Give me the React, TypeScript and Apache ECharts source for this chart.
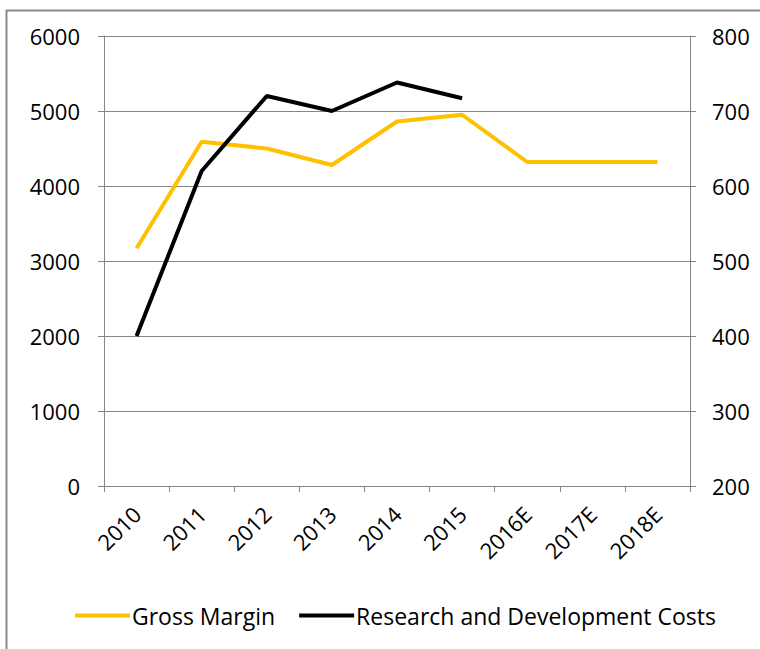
import React, { useEffect, useRef } from "react";
import * as echarts from "echarts";

const categories = ["2010", "2011", "2012", "2013", "2014", "2015", "2016E", "2017E", "2018E"];
const grossMargin = [3170, 4590, 4500, 4280, 4860, 4950, 4320, 4320, 4320];
const rdCosts: (number | null)[] = [400, 620, 720, 700, 738, 717, null, null, null];

const FONT = "'Open Sans', sans-serif";
const AXIS_COLOR = "#868686";

export default function App() {
  const ref = useRef<HTMLDivElement>(null);
  useEffect(() => {
    if (!ref.current) return;
    const chart = echarts.init(ref.current, undefined, { renderer: "svg" });
    chart.setOption({
      animation: false,
      backgroundColor: "#ffffff",
      textStyle: { fontFamily: FONT },
      graphic: [
        { type: "line", shape: { x1: 6.5, y1: 10, x2: 6.5, y2: 649 }, style: { stroke: "#8a8a8a", lineWidth: 2 } },
        { type: "line", shape: { x1: 6, y1: 10.5, x2: 760, y2: 10.5 }, style: { stroke: "#8a8a8a", lineWidth: 2 } },
      ],
      grid: { left: 104, right: 70, top: 36, bottom: 163 },
      legend: {
        top: 599,
        left: 70,
        itemWidth: 55,
        itemHeight: 4,
        itemGap: 24,
        icon: "rect",
        textStyle: { fontFamily: FONT, fontSize: 23, color: "#000", padding: [0, 0, 0, -3] },
        data: ["Gross Margin", "Research and Development Costs"],
      },
      xAxis: {
        type: "category",
        data: categories,
        boundaryGap: true,
        axisLine: { lineStyle: { color: AXIS_COLOR, width: 1 } },
        axisTick: { show: true, interval: 0, length: 6, lineStyle: { color: AXIS_COLOR } },
        axisLabel: { rotate: 45, interval: 0, margin: 24, fontSize: 22, color: "#000", fontFamily: FONT },
      },
      yAxis: [
        {
          type: "value",
          min: 0,
          max: 6000,
          interval: 1000,
          position: "left",
          axisLine: { show: true, lineStyle: { color: AXIS_COLOR } },
          axisTick: { show: true, length: 6, lineStyle: { color: AXIS_COLOR } },
          splitLine: { show: true, lineStyle: { color: AXIS_COLOR, width: 1 } },
          axisLabel: { fontSize: 22, color: "#000", margin: 24, fontFamily: FONT, formatter: (v: number) => String(v) },
        },
        {
          type: "value",
          min: 200,
          max: 800,
          interval: 100,
          position: "right",
          axisLine: { show: true, lineStyle: { color: AXIS_COLOR } },
          axisTick: { show: true, length: 6, lineStyle: { color: AXIS_COLOR } },
          splitLine: { show: false },
          axisLabel: { fontSize: 22, color: "#000", margin: 22, fontFamily: FONT, formatter: (v: number) => String(v) },
        },
      ],
      series: [
        {
          name: "Gross Margin",
          type: "line",
          yAxisIndex: 0,
          data: grossMargin,
          showSymbol: false,
          symbol: "none",
          color: "#FFC000",
          lineStyle: { width: 4, color: "#FFC000" },
        },
        {
          name: "Research and Development Costs",
          type: "line",
          yAxisIndex: 1,
          data: rdCosts,
          showSymbol: false,
          symbol: "none",
          color: "#000000",
          lineStyle: { width: 4, color: "#000000" },
        },
      ],
    });
    return () => chart.dispose();
  }, []);
  return <div ref={ref} style={{ position: "fixed", left: 0, top: 0, width: 760, height: 649 }} />;
}
